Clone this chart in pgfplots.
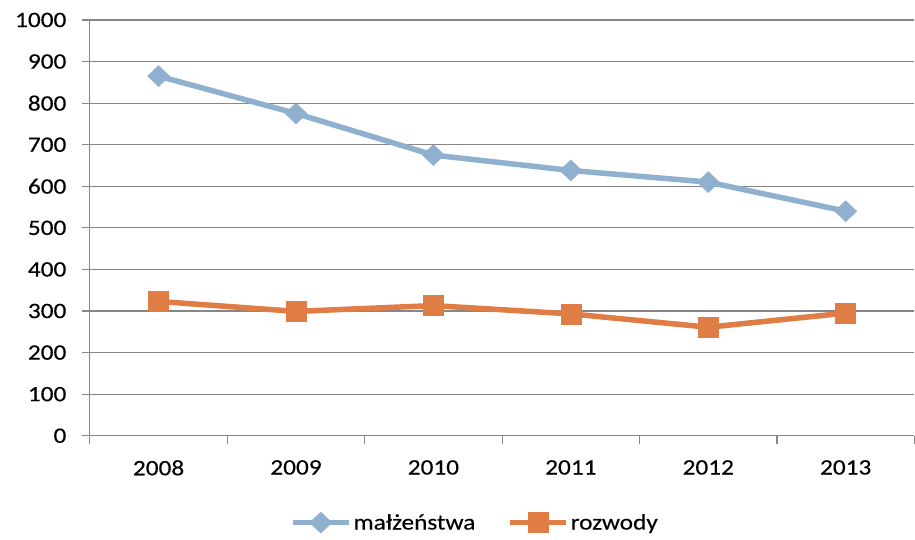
\documentclass[border=0pt]{standalone}
\usepackage{pgfplots}
\pgfplotsset{compat=1.18}
\usepackage{fontspec}
\setmainfont{Carlito}[FakeStretch=1.15, FakeBold=0.3]
\definecolor{mblue}{RGB}{143,176,206}
\definecolor{morange}{RGB}{224,125,68}
\definecolor{gridgray}{RGB}{134,134,134}
\begin{document}
\begin{tikzpicture}[font=\fontsize{22bp}{26bp}\selectfont]
\begin{axis}[
    scale only axis,
    width=825bp,
    height=416bp,
    clip=false,
    xmin=-0.5, xmax=5.5,
    ymin=0, ymax=1000,
    axis lines=left,
    axis line style={-, draw=gridgray, line width=1.2bp},
    xtick={0,1,2,3,4,5},
    xticklabels={2008,2009,2010,2011,2012,2013},
    major x tick style={draw=none},
    minor xtick={-0.5,0.5,1.5,2.5,3.5,4.5,5.5},
    minor x tick style={draw=gridgray, line width=1.2bp},
    minor tick length=8bp,
    ytick={0,100,...,1000},
    major tick length=8bp,
    tick align=outside,
    y tick style={draw=gridgray, line width=1.2bp},
    ymajorgrids=true,
    grid style={draw=gridgray, line width=1.2bp},
    /pgf/number format/assume math mode=true,
    /pgf/number format/1000 sep={},
    yticklabel style={xshift=-12bp},
    xticklabel style={yshift=-13bp},
    legend columns=2,
    legend style={draw=none, at={(0.467,-0.209)}, anchor=center,
        /tikz/every even column/.append style={column sep=30bp},
        font=\fontsize{22bp}{26bp}\selectfont},
    legend image code/.code={
        \draw[#1, mark repeat=2, mark phase=2] plot coordinates {(0bp,0bp) (28bp,0bp) (56bp,0bp)};
    },
]
\path[draw=none] (rel axis cs:-0.109,-0.25) rectangle (rel axis cs:1,1.048);
\addplot[color=mblue, line width=5.5bp, mark=diamond*, mark size=10.5bp,
    mark options={solid, fill=mblue, draw=mblue, line width=0.5bp, xscale=1.4}]
    coordinates {(0,865)(1,775)(2,675)(3,638)(4,610)(5,540)};
\addplot[color=morange, line width=5.5bp, mark=square*, mark size=10bp,
    mark options={solid, fill=morange, draw=morange, line width=0.5bp}]
    coordinates {(0,323)(1,299)(2,313)(3,293)(4,261)(5,295)};
\legend{małżeństwa, rozwody}
\end{axis}
\end{tikzpicture}
\end{document}
